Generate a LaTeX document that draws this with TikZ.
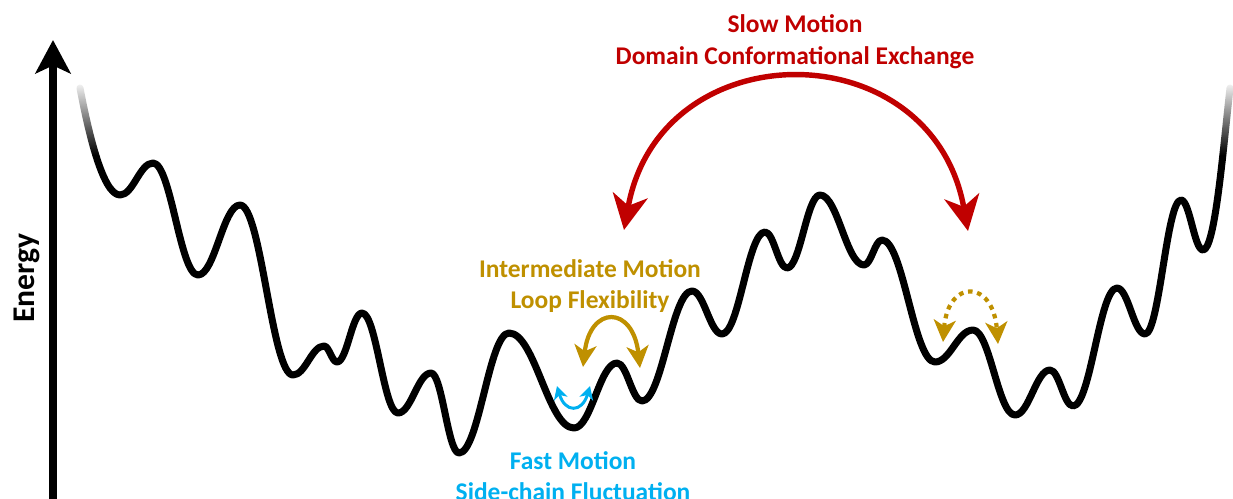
\documentclass[tikz,border=0pt]{standalone}
\usepackage{fontspec}
\setmainfont{Carlito}
\usetikzlibrary{arrows.meta,fadings}

\definecolor{slowred}{RGB}{192,0,0}
\definecolor{midgold}{RGB}{191,144,0}
\definecolor{fastblue}{RGB}{0,176,240}
\definecolor{haze}{RGB}{247,248,251}
\tikzfading[name=fade down, top color=transparent!0, bottom color=transparent!100]

\begin{document}
\begin{tikzpicture}[x=0.02cm, y=-0.02cm,
    axistip/.tip={Stealth[length=19pt, width=20pt, inset=4.5pt]},
    redtip/.tip={Stealth[length=20pt, width=20pt, inset=6pt]},
    goldtip/.tip={Stealth[length=12.5pt, width=12.5pt, inset=3.5pt]},
    bluetip/.tip={Stealth[length=7.5pt, width=8pt, inset=2.2pt]},
    landscape/.style={line width=4pt, line join=round, line cap=round},
    axis/.style={line width=4pt, -axistip},
    slow/.style={draw=slowred, line width=3.1pt, redtip-redtip},
    flex/.style={draw=midgold, line width=2.4pt, goldtip-goldtip},
    flexdots/.style={flex, dash pattern=on 2.6pt off 2.7pt},
    fast/.style={draw=fastblue, line width=1.7pt, bluetip-bluetip},
    label/.style={font=\fontsize{14.5}{18}\selectfont\bfseries, align=center}]

  \useasboundingbox (0,0) rectangle (1233,498);
  \shade[top color=white, middle color=haze, bottom color=white] (57,80) rectangle (1233,160);

  % energy landscape
  \draw[landscape] (80,88) .. controls (87,125) and (102,195) .. (120,195)
    \foreach \x/\y [remember=\x as \lastx (initially 120)] in
      {153/163, 198/275, 240/205, 293/375, 324/346, 337/362, 362/313,
       398/413, 431/373, 459/453, 509/333, 574/428, 617/363, 642/401,
       692/291, 722/334, 765/232, 787/268, 820/195, 864/265, 882/240,
       935/362, 973/330, 1015/415, 1050/370, 1073/406, 1117/288, 1145/334,
       1181/200, 1203/250}
    { .. controls +({0.4*(\x-\lastx)},0) and +({-0.4*(\x-\lastx)},0) .. (\x,\y) }
    .. controls (1215,250) and (1223,150) .. (1230,88);
  \fill[white, path fading=fade down] (66,80) rectangle (114,155);
  \fill[white, path fading=fade down] (1205,80) rectangle (1245,155);

  % axis
  \coordinate (axis bottom) at (53,505);
  \coordinate (axis top) at (53,40);
  \draw[axis] (axis bottom) -- (axis top);
  \node[rotate=90, font=\fontsize{18}{22}\selectfont\bfseries] (energy) at (27,278) {Energy};

  % motions
  \coordinate (slow l) at (624,230);
  \coordinate (slow r) at (968,231);
  \draw[slow] (slow l) .. controls (660,30) and (932,30) .. (slow r);
  \node[label, text=slowred] (slow text) at (795,42) {Slow Motion\\Domain Conformational Exchange};

  \coordinate (flex l) at (583,367);
  \coordinate (flex r) at (640,368);
  \draw[flex] (flex l) .. controls (590,305) and (633,305) .. (flex r);
  \coordinate (flex2 l) at (943,342);
  \coordinate (flex2 r) at (998,344);
  \draw[flexdots] (flex2 l) .. controls (948,279) and (993,279) .. (flex2 r);
  \node[label, text=midgold] (flex text) at (590,286) {Intermediate Motion\\Loop Flexibility};

  \coordinate (fast l) at (557,386);
  \coordinate (fast r) at (590,386);
  \draw[fast] (fast l) .. controls (565,413) and (582,413) .. (fast r);
  \node[label, text=fastblue] (fast text) at (573,476) {Fast Motion\\Side-chain Fluctuation};
\end{tikzpicture}
\end{document}
